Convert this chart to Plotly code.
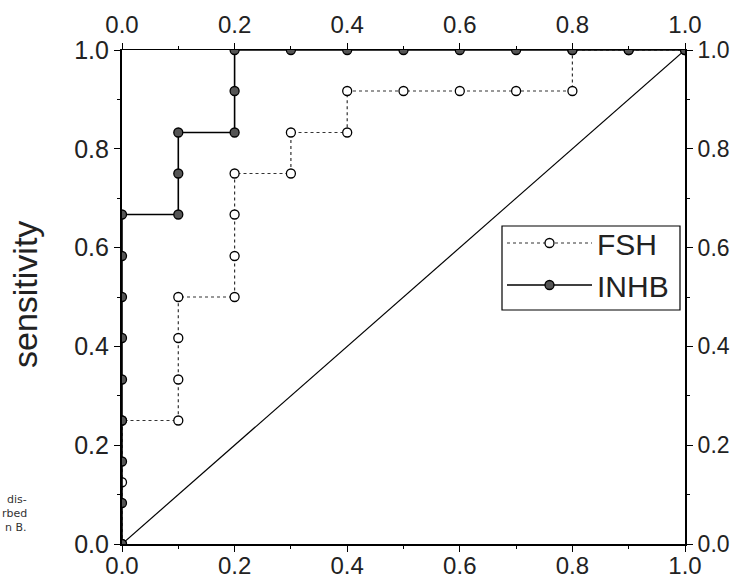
import plotly.graph_objects as go

# ROC curve points (1 - specificity, sensitivity)
fsh_x = [0.0, 0.0, 0.0, 0.1, 0.1, 0.1, 0.1, 0.2, 0.2, 0.2, 0.2, 0.3, 0.3, 0.4, 0.4,
         0.5, 0.6, 0.7, 0.8, 0.8, 0.9, 1.0]
fsh_y = [0.0, 0.125, 0.25, 0.25, 0.333, 0.417, 0.5, 0.5, 0.583, 0.667, 0.75, 0.75, 0.833,
         0.833, 0.917, 0.917, 0.917, 0.917, 0.917, 1.0, 1.0, 1.0]

inhb_x = [0.0, 0.0, 0.0, 0.0, 0.0, 0.0, 0.0, 0.0, 0.0, 0.1, 0.1, 0.1, 0.2, 0.2, 0.2,
          0.3, 0.4, 0.5, 0.6, 0.7, 0.8, 0.9, 1.0]
inhb_y = [0.0, 0.083, 0.167, 0.25, 0.333, 0.417, 0.5, 0.583, 0.667, 0.667, 0.75, 0.833,
          0.833, 0.917, 1.0, 1.0, 1.0, 1.0, 1.0, 1.0, 1.0, 1.0, 1.0]

ref_x = [0.0, 1.0]
ref_y = [0.0, 1.0]

FONT = "Liberation Sans, Arial, sans-serif"
PLOT_L, PLOT_W, PLOT_B, PLOT_H = 122, 563, 544, 494


def px_x(px):
    return (px - PLOT_L) / PLOT_W


def px_y(py):
    return (PLOT_B - py) / PLOT_H


fig = go.Figure()

fig.add_trace(go.Scatter(
    x=ref_x, y=ref_y, mode="lines", showlegend=False,
    line=dict(color="black", width=1.2), hoverinfo="skip"))

fig.add_trace(go.Scatter(
    x=fsh_x, y=fsh_y, mode="lines+markers", name="FSH",
    line=dict(color="#333333", width=1.2, dash="dot"),
    marker=dict(symbol="circle", size=9, color="white",
                line=dict(color="black", width=1.3))))

fig.add_trace(go.Scatter(
    x=inhb_x, y=inhb_y, mode="lines+markers", name="INHB",
    line=dict(color="black", width=1.6),
    marker=dict(symbol="circle", size=9, color="#555555",
                line=dict(color="black", width=1.3))))

# invisible trace carrying the top/right axes
fig.add_trace(go.Scatter(x=[0, 1], y=[0, 1], xaxis="x2", yaxis="y2",
                         mode="markers", marker=dict(opacity=0),
                         showlegend=False, hoverinfo="skip"))


def axis_style(size):
    return dict(
        range=[0, 1], tickmode="linear", tick0=0, dtick=0.2, tickformat=".1f",
        ticks="outside", ticklen=6, tickwidth=1, tickcolor="black",
        showline=True, linecolor="black", showgrid=False, zeroline=False,
        automargin=False,
        tickfont=dict(family=FONT, size=size, color="#222222"),
        minor=dict(tick0=0, dtick=0.1, ticks="outside", ticklen=3,
                   tickcolor="black", showgrid=False),
    )


fig.update_layout(
    width=746, height=578,
    margin=dict(l=PLOT_L, r=746 - PLOT_L - PLOT_W, t=50, b=578 - PLOT_B, autoexpand=False),
    paper_bgcolor="white", plot_bgcolor="white",
    xaxis=dict(**axis_style(24), linewidth=1.5, domain=[0, 1], ticklabelstandoff=-7),
    yaxis=dict(**axis_style(25), linewidth=2.2, domain=[0, 1]),
    xaxis2=dict(**axis_style(24), linewidth=1, overlaying="x", side="top", anchor="y2"),
    yaxis2=dict(**axis_style(23), linewidth=2, overlaying="y", side="right", anchor="x2"),
    legend=dict(
        x=px_x(502), y=px_y(217), xanchor="left", yanchor="top",
        borderwidth=0, bgcolor="rgba(0,0,0,0)",
        font=dict(family=FONT, size=30, color="#222222"),
        itemwidth=85, tracegroupgap=0,
    ),
    showlegend=True,
)

# legend frame
fig.add_shape(type="rect", xref="paper", yref="paper",
              x0=px_x(502), x1=px_x(680), y0=px_y(310), y1=px_y(226),
              line=dict(color="black", width=1.2), fillcolor="white", layer="below")

fig.add_annotation(
    text="sensitivity", xref="paper", yref="paper",
    x=px_x(25), y=px_y(295), xanchor="center", yanchor="middle", textangle=-90,
    showarrow=False, font=dict(family=FONT, size=34, color="#222222"))

# fragments of the neighbouring page text
for txt, py in [("dis-", 499), ("rbed", 513), ("n B.", 527)]:
    fig.add_annotation(
        text=txt, xref="paper", yref="paper",
        x=px_x(29), y=px_y(py), xanchor="right", yanchor="middle",
        showarrow=False, font=dict(family="DejaVu Sans", size=11, color="#333333"))

fig.write_html("out.html")
